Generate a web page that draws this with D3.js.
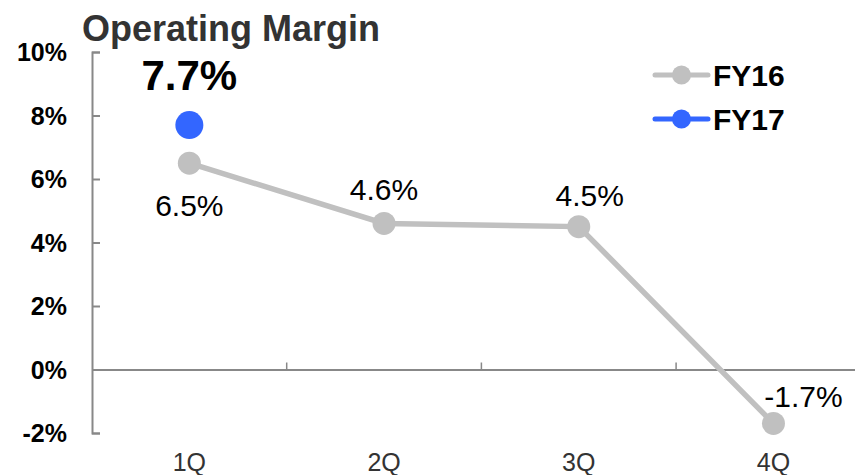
<!DOCTYPE html>
<html>
<head>
<meta charset="utf-8">
<script src="https://cdn.jsdelivr.net/npm/d3@7"></script>
<style>
  body { margin: 0; background: #fff; }
  svg { display: block; font-family: "Liberation Sans", Arial, sans-serif; }
</style>
</head>
<body>
<svg id="chart" width="855" height="475"></svg>
<script>
// chart data
const quarters = ["1Q", "2Q", "3Q", "4Q"];
const fy16 = [6.5, 4.6, 4.5, -1.7];
const fy17 = [7.7];
const yTicks = [-2, 0, 2, 4, 6, 8, 10];

const GREY = "#c0c0c0";
const BLUE = "#3366ff";
const AXIS = "#888888";

var svg = d3.select("#chart");

var x = d3.scaleBand().domain(quarters).range([92, 870.8]);
var y = d3.scaleLinear().domain([-2, 10]).range([433, 52]);

// title
svg.append("text")
	.attr("x", 82).attr("y", 41)
	.attr("font-size", 36).attr("font-weight", "bold")
	.attr("fill", "#333")
	.text("Operating Margin");

// y axis, ticks pointing inwards
var yAxis = svg.append("g")
	.attr("transform", "translate(92,0)")
	.call(d3.axisRight(y).tickValues(yTicks).tickSize(8).tickFormat(d => d + "%"));
yAxis.select(".domain").attr("stroke", AXIS).attr("stroke-width", 2);
yAxis.selectAll(".tick line").attr("stroke", AXIS).attr("stroke-width", 2);
yAxis.selectAll(".tick text")
	.attr("x", -25).attr("dy", "0.35em").attr("text-anchor", "end")
	.attr("font-size", 25).attr("font-weight", "bold")
	.attr("fill", "#000");

// x axis on the zero line
var xAxis = svg.append("g")
	.attr("transform", "translate(0," + y(0) + ")")
	.call(d3.axisBottom(x).tickSize(0).tickSizeOuter(0));
xAxis.select(".domain").attr("stroke", AXIS).attr("stroke-width", 2);
xAxis.selectAll(".tick text")
	.attr("y", 471 - y(0)).attr("dy", 0)
	.attr("font-size", 25).attr("fill", "#333");

// band boundary ticks pointing up
svg.append("g").selectAll("line")
	.data(quarters.slice(1))
	.enter().append("line")
	.attr("x1", d => x(d)).attr("x2", d => x(d))
	.attr("y1", y(0)).attr("y2", y(0) - 7)
	.attr("stroke", AXIS).attr("stroke-width", 1.5);

var cx = d => x(d) + x.bandwidth() / 2;

// FY16 line
svg.append("path")
	.datum(fy16)
	.attr("fill", "none")
	.attr("stroke", GREY).attr("stroke-width", 5.5)
	.attr("d", d3.line().x((d, i) => cx(quarters[i])).y(d => y(d)));

svg.selectAll(".dot16")
	.data(fy16)
	.enter().append("circle")
	.attr("class", "dot16")
	.attr("cx", (d, i) => cx(quarters[i]))
	.attr("cy", d => y(d))
	.attr("r", 11.5)
	.attr("fill", GREY);

// FY17 point
svg.selectAll(".dot17")
	.data(fy17)
	.enter().append("circle")
	.attr("class", "dot17")
	.attr("cx", (d, i) => cx(quarters[i]))
	.attr("cy", d => y(d))
	.attr("r", 14)
	.attr("fill", BLUE);

// value labels: [dx, dy] offsets relative to the point
var labelOffsets = [[0, 53], [0, -23], [11, -21], [30, -16]];
svg.selectAll(".lbl16")
	.data(fy16)
	.enter().append("text")
	.attr("class", "lbl16")
	.attr("x", (d, i) => cx(quarters[i]) + labelOffsets[i][0])
	.attr("y", (d, i) => y(d) + labelOffsets[i][1])
	.attr("text-anchor", "middle")
	.attr("font-size", 30).attr("fill", "#000")
	.text(d => d.toFixed(1) + "%");

svg.selectAll(".lbl17")
	.data(fy17)
	.enter().append("text")
	.attr("class", "lbl17")
	.attr("x", (d, i) => cx(quarters[i]))
	.attr("y", d => y(d) - 35)
	.attr("text-anchor", "middle")
	.attr("font-size", 42).attr("font-weight", "bold").attr("fill", "#000")
	.text(d => d.toFixed(1) + "%");

// legend
var legend = [{ name: "FY16", color: GREY, y: 75 }, { name: "FY17", color: BLUE, y: 119 }];
var lg = svg.append("g").selectAll("g")
	.data(legend)
	.enter().append("g")
	.attr("transform", d => "translate(653," + d.y + ")");
lg.append("line")
	.attr("x1", 2).attr("x2", 55)
	.attr("stroke", d => d.color).attr("stroke-width", 5)
	.attr("stroke-linecap", "round");
lg.append("circle")
	.attr("cx", 28.5).attr("r", 9.5)
	.attr("fill", d => d.color);
lg.append("text")
	.attr("x", 60).attr("y", 11)
	.attr("font-size", 30).attr("font-weight", "bold").attr("fill", "#000")
	.text(d => d.name);
</script>
</body>
</html>
